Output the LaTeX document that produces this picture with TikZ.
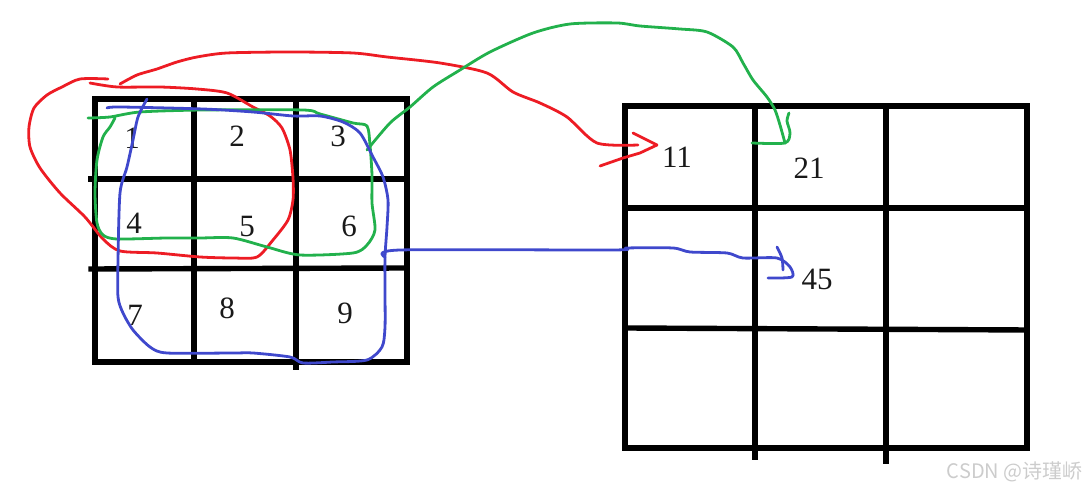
\documentclass[tikz,border=0pt]{standalone}
\usepackage{fontspec}
\setmainfont{Liberation Serif}
\newfontfamily\cjkfont{Noto Sans CJK SC}
\definecolor{pred}{RGB}{237,28,36}
\definecolor{pgreen}{RGB}{34,177,76}
\definecolor{pblue}{RGB}{63,72,204}
\tikzset{
  gline/.style ={line width=2.7pt, line cap=rect, draw=black},
  hand/.style  ={line width=1.4pt, line cap=round, line join=round},
  hred/.style  ={hand, draw=pred},
  hgreen/.style={hand, draw=pgreen},
  hblue/.style ={hand, draw=pblue},
  num/.style   ={font=\fontsize{15.5}{18}\selectfont, text=black!90, inner sep=0pt},
  wmark/.style ={font=\cjkfont\fontsize{10}{12}\selectfont, text=black!20, inner sep=0pt},
}

\begin{document}
\begin{tikzpicture}[x=0.5pt, y=-0.5pt]
  \useasboundingbox (0,0) rectangle (1088,490);

  % ---- input grid 3x3 ----
  \draw[gline] (95,99) rectangle (407,362);
  \draw[gline] (194,99) -- (194,362);
  \draw[gline] (296,99) -- (296,367);
  \draw[gline] (91,179) -- (407,179);
  \draw[gline] (91,269) -- (407,268);

  \node[num] (a1) at (132,138) {1};
  \node[num] (a2) at (237,136) {2};
  \node[num] (a3) at (338,136) {3};
  \node[num] (a4) at (134,223) {4};
  \node[num] (a5) at (247,227) {5};
  \node[num] (a6) at (349,226) {6};
  \node[num] (a7) at (135,315) {7};
  \node[num] (a8) at (227,308) {8};
  \node[num] (a9) at (345,313) {9};

  % ---- output grid 3x3 ----
  \draw[gline] (625,106) rectangle (1027,448);
  \draw[gline] (755,106) -- (755,457);
  \draw[gline] (886,106) -- (886,461);
  \draw[gline] (625,208) -- (1027,208);
  \draw[gline] (625,328) -- (1027,330);

  \node[num] (b11) at (677,157) {11};
  \node[num] (b21) at (809,168) {21};
  \node[num] (b45) at (817,279) {45};

  % ---- red: 1 2 4 5 -> 11 ----
  \draw[hred] plot[smooth, tension=0.45] coordinates {
    (90,83) (117,87) (160,87) (197,89) (227,93) (253,107) (270,116) (282,128)
    (290,150) (293,178) (293,200) (288,220) (273,240) (257,257) (233,258)
    (200,257) (157,253) (120,251) (103,239) (85,217) (60,193) (40,168)
    (30,147) (29,127) (34,108) (47,95) (62,87) (80,79) (108,79)};
  \coordinate (redtip) at (657,145);
  \draw[hred] plot[smooth, tension=0.45] coordinates {
    (120,84) (137,75) (157,69) (177,62) (197,57) (227,53) (290,52) (353,53)
    (387,57) (440,63) (487,73) (513,92) (540,103) (567,117) (597,143) (638,145)};
  \draw[hred] (633,133) -- (redtip) -- (640,153) -- (623,158) -- (600,166);

  % ---- green: 1 2 3 4 5 6 -> 21 ----
  \draw[hgreen] plot[smooth, tension=0.45] coordinates {
    (88,118) (110,117) (140,112) (203,110) (303,110) (320,114) (353,123)
    (367,126) (370,145) (372,175) (372,203) (375,230) (367,245) (353,253)
    (300,255) (267,247) (233,238) (200,238) (167,238) (117,239) (103,235)
    (97,223) (95,193) (97,160) (103,137) (110,127) (115,118)};
  \coordinate (greentip) at (789,113);
  \draw[hgreen] plot[smooth, tension=0.45] coordinates {
    (367,150) (390,123) (410,107) (433,87) (460,70) (490,52) (533,33)
    (570,24) (617,23) (640,26) (680,29) (707,32) (733,47) (743,63)
    (753,80) (767,97) (775,110) (780,125) (785,143)};
  \draw[hgreen] plot[smooth, tension=0.45] coordinates {
    (752,143) (785,143) (790,133) (787,121) (greentip)};

  % ---- blue: all nine -> 45 ----
  \draw[hblue] plot[smooth, tension=0.45] coordinates {
    (107,108) (120,107) (203,109) (253,112) (293,116) (320,116) (343,122)
    (360,133) (373,157) (383,177) (388,200) (387,227) (385,257) (385,293)
    (385,327) (382,347) (367,360) (333,362) (303,363) (290,357) (253,353)
    (233,353) (167,353) (150,347) (133,330) (123,313) (118,297) (118,260)
    (120,193) (127,167) (133,140) (138,117) (147,99)};
  \coordinate (bluetip) at (783,270);
  \draw[hblue] plot[smooth, tension=0.45] coordinates {
    (385,257) (400,250) (613,250) (627,248) (673,248) (690,252) (727,253)
    (743,258) (777,258) (790,267) (792,277) (768,278)};
  \draw[hblue] plot[smooth, tension=0.5] coordinates {
    (777,247) (782,258) (bluetip)};

  % ---- watermark ----
  \node[wmark, anchor=east] (mark) at (1083,472) {CSDN @诗瑾峤};

\end{tikzpicture}
\end{document}
